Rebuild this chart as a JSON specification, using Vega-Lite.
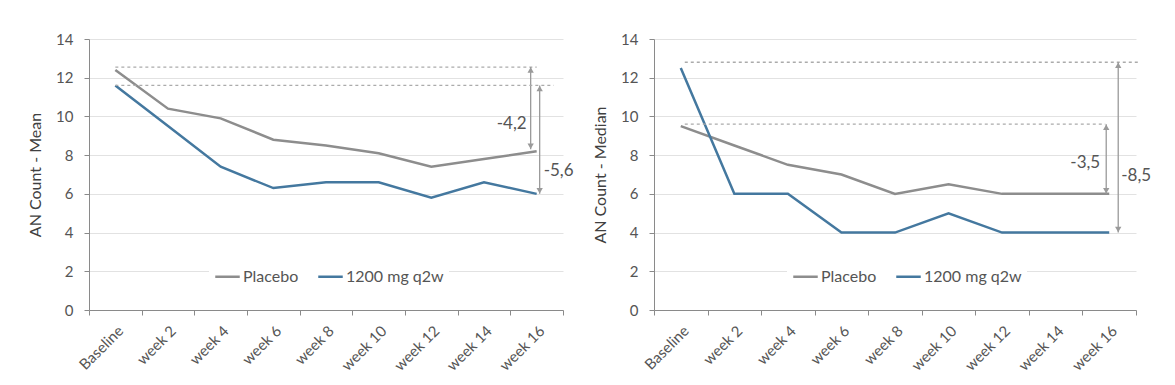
{
  "$schema": "https://vega.github.io/schema/vega-lite/v6.json",
  "padding": {"left": 27, "top": 32, "right": 0, "bottom": 0},
  "background": "white",
  "spacing": 18,
  "config": {
    "font": "Lato",
    "view": {"stroke": null},
    "axis": {
      "domainColor": "#8a8a8a",
      "tickColor": "#8a8a8a",
      "tickSize": 5,
      "labelColor": "#555555",
      "labelFontSize": 15,
      "titleColor": "#404040",
      "titleFontSize": 16,
      "titleFontWeight": "normal",
      "gridColor": "#e2e2e2"
    },
    "axisX": {"grid": false, "labelAngle": -45, "labelFontSize": 15, "tickBand": "extent", "title": null, "labelPadding": 8},
    "axisY": {"grid": true, "values": [0, 2, 4, 6, 8, 10, 12, 14], "titlePadding": 12, "labelPadding": 11}
  },
  "datasets": {
    "mean": [
      {"time": "Baseline", "group": "Placebo", "value": 12.4},
      {"time": "week 2", "group": "Placebo", "value": 10.4},
      {"time": "week 4", "group": "Placebo", "value": 9.9},
      {"time": "week 6", "group": "Placebo", "value": 8.8},
      {"time": "week 8", "group": "Placebo", "value": 8.5},
      {"time": "week 10", "group": "Placebo", "value": 8.1},
      {"time": "week 12", "group": "Placebo", "value": 7.4},
      {"time": "week 14", "group": "Placebo", "value": 7.8},
      {"time": "week 16", "group": "Placebo", "value": 8.2},
      {"time": "Baseline", "group": "1200 mg q2w", "value": 11.6},
      {"time": "week 2", "group": "1200 mg q2w", "value": 9.5},
      {"time": "week 4", "group": "1200 mg q2w", "value": 7.4},
      {"time": "week 6", "group": "1200 mg q2w", "value": 6.3},
      {"time": "week 8", "group": "1200 mg q2w", "value": 6.6},
      {"time": "week 10", "group": "1200 mg q2w", "value": 6.6},
      {"time": "week 12", "group": "1200 mg q2w", "value": 5.8},
      {"time": "week 14", "group": "1200 mg q2w", "value": 6.6},
      {"time": "week 16", "group": "1200 mg q2w", "value": 6.0}
    ],
    "median": [
      {"time": "Baseline", "group": "Placebo", "value": 9.5},
      {"time": "week 2", "group": "Placebo", "value": 8.5},
      {"time": "week 4", "group": "Placebo", "value": 7.5},
      {"time": "week 6", "group": "Placebo", "value": 7.0},
      {"time": "week 8", "group": "Placebo", "value": 6.0},
      {"time": "week 10", "group": "Placebo", "value": 6.5},
      {"time": "week 12", "group": "Placebo", "value": 6.0},
      {"time": "week 14", "group": "Placebo", "value": 6.0},
      {"time": "week 16", "group": "Placebo", "value": 6.0},
      {"time": "Baseline", "group": "1200 mg q2w", "value": 12.5},
      {"time": "week 2", "group": "1200 mg q2w", "value": 6.0},
      {"time": "week 4", "group": "1200 mg q2w", "value": 6.0},
      {"time": "week 6", "group": "1200 mg q2w", "value": 4.0},
      {"time": "week 8", "group": "1200 mg q2w", "value": 4.0},
      {"time": "week 10", "group": "1200 mg q2w", "value": 5.0},
      {"time": "week 12", "group": "1200 mg q2w", "value": 4.0},
      {"time": "week 14", "group": "1200 mg q2w", "value": 4.0},
      {"time": "week 16", "group": "1200 mg q2w", "value": 4.0}
    ]
  },
  "resolve": {"legend": {"color": "independent"}},
  "hconcat": [
    {
      "width": 474,
      "height": 271,
      "layer": [
        {
          "data": {"name": "mean"},
          "mark": {"type": "line", "strokeWidth": 2.5},
          "encoding": {
            "x": {"field": "time", "type": "ordinal", "sort": null,
                  "scale": {"type": "band", "paddingInner": 0, "paddingOuter": 0,
                            "domain": ["Baseline", "week 2", "week 4", "week 6", "week 8", "week 10", "week 12", "week 14", "week 16"]}},
            "y": {"field": "value", "type": "quantitative", "title": "AN Count - Mean", "scale": {"domain": [0, 14]}},
            "color": {"field": "group", "type": "nominal",
                      "scale": {"domain": ["Placebo", "1200 mg q2w"], "range": ["#8d8d8d", "#44789f"]},
                      "legend": {"orient": "none", "legendX": 120, "legendY": 219, "direction": "horizontal", "title": null,
                                 "fillColor": "white", "padding": 5, "symbolType": "stroke", "symbolStrokeWidth": 2.5,
                                 "symbolSize": 600, "labelFontSize": 16, "labelColor": "#555555", "columnPadding": 14, "labelOffset": 2}}
          }
        },
        {
          "data": {"values": [{"start": "Baseline", "end": "week 16", "from": 12.55, "to": 8.3, "label": "-4,2", "ly": 9.6}]},
          "layer": [
            {"mark": {"type": "rule", "strokeDash": [3, 3], "color": "#ababab", "strokeWidth": 1.3},
             "encoding": {"x": {"field": "start", "type": "ordinal"}, "x2": {"field": "end"}, "y": {"field": "from", "type": "quantitative", "title": "AN Count - Mean"}}},
            {"mark": {"type": "rule", "color": "#9a9a9a", "strokeWidth": 1.3, "xOffset": -6},
             "encoding": {"x": {"field": "end", "type": "ordinal"}, "y": {"field": "from", "type": "quantitative", "title": "AN Count - Mean"}, "y2": {"field": "to", "title": "AN Count - Mean"}}},
            {"mark": {"type": "point", "shape": "triangle-up", "filled": true, "size": 40, "color": "#9a9a9a", "opacity": 1, "xOffset": -6, "yOffset": 3},
             "encoding": {"x": {"field": "end", "type": "ordinal"}, "y": {"field": "from", "type": "quantitative", "title": "AN Count - Mean"}}},
            {"mark": {"type": "point", "shape": "triangle-down", "filled": true, "size": 40, "color": "#9a9a9a", "opacity": 1, "xOffset": -6, "yOffset": -3},
             "encoding": {"x": {"field": "end", "type": "ordinal"}, "y": {"field": "to", "type": "quantitative", "title": "AN Count - Mean"}}},
            {"mark": {"type": "text", "align": "right", "baseline": "middle", "fontSize": 17, "color": "#555555", "xOffset": -10},
             "encoding": {"x": {"field": "end", "type": "ordinal"}, "y": {"field": "ly", "type": "quantitative", "title": "AN Count - Mean"}, "text": {"field": "label"}}}
          ]
        },
        {
          "data": {"values": [{"start": "Baseline", "end": "week 16", "from": 11.6, "to": 6.0, "label": "-5,6", "ly": 7.2}]},
          "layer": [
            {"mark": {"type": "rule", "strokeDash": [3, 3], "color": "#ababab", "strokeWidth": 1.3, "x2Offset": 17},
             "encoding": {"x": {"field": "start", "type": "ordinal"}, "x2": {"field": "end"}, "y": {"field": "from", "type": "quantitative", "title": "AN Count - Mean"}}},
            {"mark": {"type": "rule", "color": "#9a9a9a", "strokeWidth": 1.3, "xOffset": 3},
             "encoding": {"x": {"field": "end", "type": "ordinal"}, "y": {"field": "from", "type": "quantitative", "title": "AN Count - Mean"}, "y2": {"field": "to", "title": "AN Count - Mean"}}},
            {"mark": {"type": "point", "shape": "triangle-up", "filled": true, "size": 40, "color": "#9a9a9a", "opacity": 1, "xOffset": 3, "yOffset": 3},
             "encoding": {"x": {"field": "end", "type": "ordinal"}, "y": {"field": "from", "type": "quantitative", "title": "AN Count - Mean"}}},
            {"mark": {"type": "point", "shape": "triangle-down", "filled": true, "size": 40, "color": "#9a9a9a", "opacity": 1, "xOffset": 3, "yOffset": -3},
             "encoding": {"x": {"field": "end", "type": "ordinal"}, "y": {"field": "to", "type": "quantitative", "title": "AN Count - Mean"}}},
            {"mark": {"type": "text", "align": "left", "baseline": "middle", "fontSize": 17, "color": "#555555", "xOffset": 7},
             "encoding": {"x": {"field": "end", "type": "ordinal"}, "y": {"field": "ly", "type": "quantitative", "title": "AN Count - Mean"}, "text": {"field": "label"}}}
          ]
        }
      ]
    },
    {
      "width": 482,
      "height": 271,
      "layer": [
        {
          "data": {"name": "median"},
          "mark": {"type": "line", "strokeWidth": 2.5},
          "encoding": {
            "x": {"field": "time", "type": "ordinal", "sort": null,
                  "scale": {"type": "band", "paddingInner": 0, "paddingOuter": 0,
                            "domain": ["Baseline", "week 2", "week 4", "week 6", "week 8", "week 10", "week 12", "week 14", "week 16"]}},
            "y": {"field": "value", "type": "quantitative", "title": "AN Count - Median", "scale": {"domain": [0, 14]}},
            "color": {"field": "group", "type": "nominal",
                      "scale": {"domain": ["Placebo", "1200 mg q2w"], "range": ["#8d8d8d", "#44789f"]},
                      "legend": {"orient": "none", "legendX": 133, "legendY": 219, "direction": "horizontal", "title": null,
                                 "fillColor": "white", "padding": 5, "symbolType": "stroke", "symbolStrokeWidth": 2.5,
                                 "symbolSize": 600, "labelFontSize": 16, "labelColor": "#555555", "columnPadding": 14, "labelOffset": 2}}
          }
        },
        {
          "data": {"values": [{"start": "Baseline", "end": "week 16", "from": 9.6, "to": 6.0, "label": "-3,5", "ly": 7.6}]},
          "layer": [
            {"mark": {"type": "rule", "strokeDash": [3, 3], "color": "#ababab", "strokeWidth": 1.3, "xOffset": 4, "x2Offset": -4},
             "encoding": {"x": {"field": "start", "type": "ordinal"}, "x2": {"field": "end"}, "y": {"field": "from", "type": "quantitative", "title": "AN Count - Median"}}},
            {"mark": {"type": "rule", "color": "#9a9a9a", "strokeWidth": 1.3, "xOffset": -3},
             "encoding": {"x": {"field": "end", "type": "ordinal"}, "y": {"field": "from", "type": "quantitative", "title": "AN Count - Median"}, "y2": {"field": "to", "title": "AN Count - Median"}}},
            {"mark": {"type": "point", "shape": "triangle-up", "filled": true, "size": 40, "color": "#9a9a9a", "opacity": 1, "xOffset": -3, "yOffset": 3},
             "encoding": {"x": {"field": "end", "type": "ordinal"}, "y": {"field": "from", "type": "quantitative", "title": "AN Count - Median"}}},
            {"mark": {"type": "point", "shape": "triangle-down", "filled": true, "size": 40, "color": "#9a9a9a", "opacity": 1, "xOffset": -3, "yOffset": -3},
             "encoding": {"x": {"field": "end", "type": "ordinal"}, "y": {"field": "to", "type": "quantitative", "title": "AN Count - Median"}}},
            {"mark": {"type": "text", "align": "right", "baseline": "middle", "fontSize": 17, "color": "#555555", "xOffset": -9},
             "encoding": {"x": {"field": "end", "type": "ordinal"}, "y": {"field": "ly", "type": "quantitative", "title": "AN Count - Median"}, "text": {"field": "label"}}}
          ]
        },
        {
          "data": {"values": [{"start": "Baseline", "end": "week 16", "from": 12.8, "to": 4.0, "label": "-8,5", "ly": 6.9}]},
          "layer": [
            {"mark": {"type": "rule", "strokeDash": [3, 3], "color": "#ababab", "strokeWidth": 1.3, "xOffset": 4, "x2Offset": 30},
             "encoding": {"x": {"field": "start", "type": "ordinal"}, "x2": {"field": "end"}, "y": {"field": "from", "type": "quantitative", "title": "AN Count - Median"}}},
            {"mark": {"type": "rule", "color": "#9a9a9a", "strokeWidth": 1.3, "xOffset": 9},
             "encoding": {"x": {"field": "end", "type": "ordinal"}, "y": {"field": "from", "type": "quantitative", "title": "AN Count - Median"}, "y2": {"field": "to", "title": "AN Count - Median"}}},
            {"mark": {"type": "point", "shape": "triangle-up", "filled": true, "size": 40, "color": "#9a9a9a", "opacity": 1, "xOffset": 9, "yOffset": 3},
             "encoding": {"x": {"field": "end", "type": "ordinal"}, "y": {"field": "from", "type": "quantitative", "title": "AN Count - Median"}}},
            {"mark": {"type": "point", "shape": "triangle-down", "filled": true, "size": 40, "color": "#9a9a9a", "opacity": 1, "xOffset": 9, "yOffset": -3},
             "encoding": {"x": {"field": "end", "type": "ordinal"}, "y": {"field": "to", "type": "quantitative", "title": "AN Count - Median"}}},
            {"mark": {"type": "text", "align": "left", "baseline": "middle", "fontSize": 17, "color": "#555555", "xOffset": 12},
             "encoding": {"x": {"field": "end", "type": "ordinal"}, "y": {"field": "ly", "type": "quantitative", "title": "AN Count - Median"}, "text": {"field": "label"}}}
          ]
        }
      ]
    }
  ]
}
